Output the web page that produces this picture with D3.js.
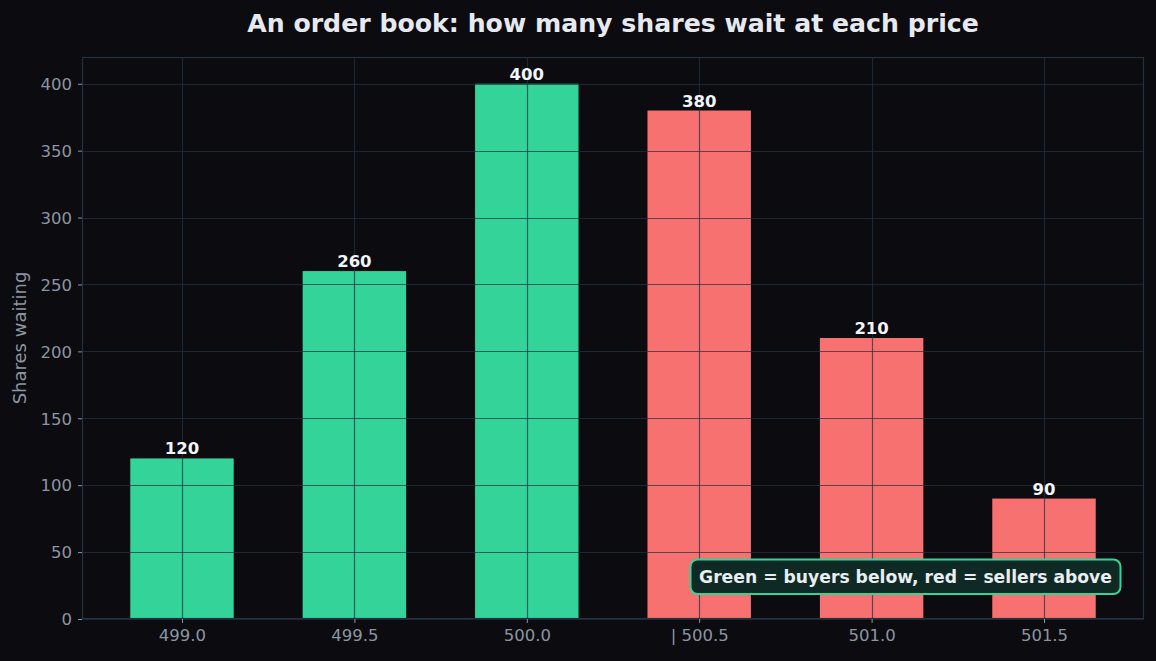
<!DOCTYPE html>
<html><head><meta charset="utf-8">
<script src="https://cdn.jsdelivr.net/npm/d3@7"></script>
<style>html,body{margin:0;padding:0;background:#0b0b10;}svg{display:block;}</style>
</head><body>
<svg id="chart" width="1156" height="661"></svg>
<script>
const categories = ["499.0", "499.5", "500.0", "| 500.5", "501.0", "501.5"];
const shares = [120, 260, 400, 380, 210, 90];
const sides = ["buy", "buy", "buy", "sell", "sell", "sell"];
const yTicks = [0, 50, 100, 150, 200, 250, 300, 350, 400];
const titleText = "An order book: how many shares wait at each price";
const yLabel = "Shares waiting";
const noteText = "Green = buyers below, red = sellers above";

const W = 1156, H = 661;
const m = {left: 82, right: 12, top: 57, bottom: 42};
const svg = d3.select("#chart");
svg.append("rect").attr("width", W).attr("height", H).attr("fill", "#0b0b10");

const x = d3.scaleLinear().domain([-0.58, categories.length - 1 + 0.58]).range([m.left, W - m.right]);
const y = d3.scaleLinear().domain([0, 420]).range([H - m.bottom, m.top]);
const color = {buy: "#34d399", sell: "#f87171"};
const bw = x(0.6) - x(0);

// bars
svg.append("g").selectAll("rect").data(shares).join("rect")
  .attr("x", (d, i) => x(i) - bw / 2)
  .attr("y", d => y(d))
  .attr("width", bw)
  .attr("height", d => y(0) - y(d))
  .attr("fill", (d, i) => color[sides[i]]);

// grid over bars
const grid = svg.append("g").attr("stroke", "#243241").attr("stroke-opacity", 0.72).attr("stroke-width", 1.2);
grid.selectAll("line.h").data(yTicks).join("line").attr("class", "h")
  .attr("x1", m.left).attr("x2", W - m.right)
  .attr("y1", d => Math.round(y(d)) + 0.5).attr("y2", d => Math.round(y(d)) + 0.5);
grid.selectAll("line.v").data(categories).join("line").attr("class", "v")
  .attr("y1", m.top).attr("y2", H - m.bottom)
  .attr("x1", (d, i) => Math.round(x(i)) + 0.5).attr("x2", (d, i) => Math.round(x(i)) + 0.5);

// frame
svg.append("rect").attr("x", m.left + 0.5).attr("y", m.top + 0.5)
  .attr("width", W - m.left - m.right - 1).attr("height", H - m.top - m.bottom - 1)
  .attr("fill", "none").attr("stroke", "#243240").attr("stroke-width", 1.2);

// axes
const xAxis = d3.axisBottom(x).tickValues(d3.range(categories.length)).tickFormat(i => categories[i]).tickSize(4).tickPadding(6);
const yAxis = d3.axisLeft(y).tickValues(yTicks).tickSize(4).tickPadding(6);
const gx = svg.append("g").attr("transform", `translate(0,${H - m.bottom})`).call(xAxis);
const gy = svg.append("g").attr("transform", `translate(${m.left},0)`).call(yAxis);
[gx, gy].forEach(g => {
  g.select(".domain").remove();
  g.selectAll(".tick line").attr("stroke", "#8b95a1");
  g.selectAll(".tick text").attr("fill", "#8b95a1").attr("font-family", "DejaVu Sans").attr("font-size", 16.5);
});
gy.selectAll(".tick text").attr("dy", "0.35em");

// value labels
svg.append("g").selectAll("text").data(shares).join("text")
  .attr("x", (d, i) => x(i)).attr("y", d => y(d) - 4)
  .attr("text-anchor", "middle").attr("fill", "#f1f5f9")
  .attr("font-family", "DejaVu Sans").attr("font-weight", "bold").attr("font-size", 16.5)
  .text(d => d);

// title
svg.append("text").attr("x", (m.left + W - m.right) / 2).attr("y", 32)
  .attr("text-anchor", "middle").attr("fill", "#e6eaf0")
  .attr("font-family", "DejaVu Sans").attr("font-weight", "bold").attr("font-size", 25.2)
  .text(titleText);

// y label
svg.append("text").attr("transform", `translate(26,${(m.top + H - m.bottom) / 2}) rotate(-90)`)
  .attr("text-anchor", "middle").attr("fill", "#8b95a1")
  .attr("font-family", "DejaVu Sans").attr("font-size", 18)
  .text(yLabel);

// annotation
const note = svg.append("g");
const nbox = note.append("rect");
const ntext = note.append("text").attr("x", 905.5).attr("y", 577).attr("dy", "0.35em")
  .attr("text-anchor", "middle").attr("fill", "#e8eef2")
  .attr("font-family", "DejaVu Sans").attr("font-weight", "bold").attr("font-size", 17.2)
  .text(noteText);
const tw = ntext.node().getComputedTextLength();
nbox.attr("x", 905.5 - tw / 2 - 8.5).attr("y", 559.5).attr("width", tw + 17).attr("height", 34.5)
  .attr("rx", 7).attr("fill", "#0f2a24").attr("stroke", "#34d399").attr("stroke-width", 2);
</script>
</body></html>
